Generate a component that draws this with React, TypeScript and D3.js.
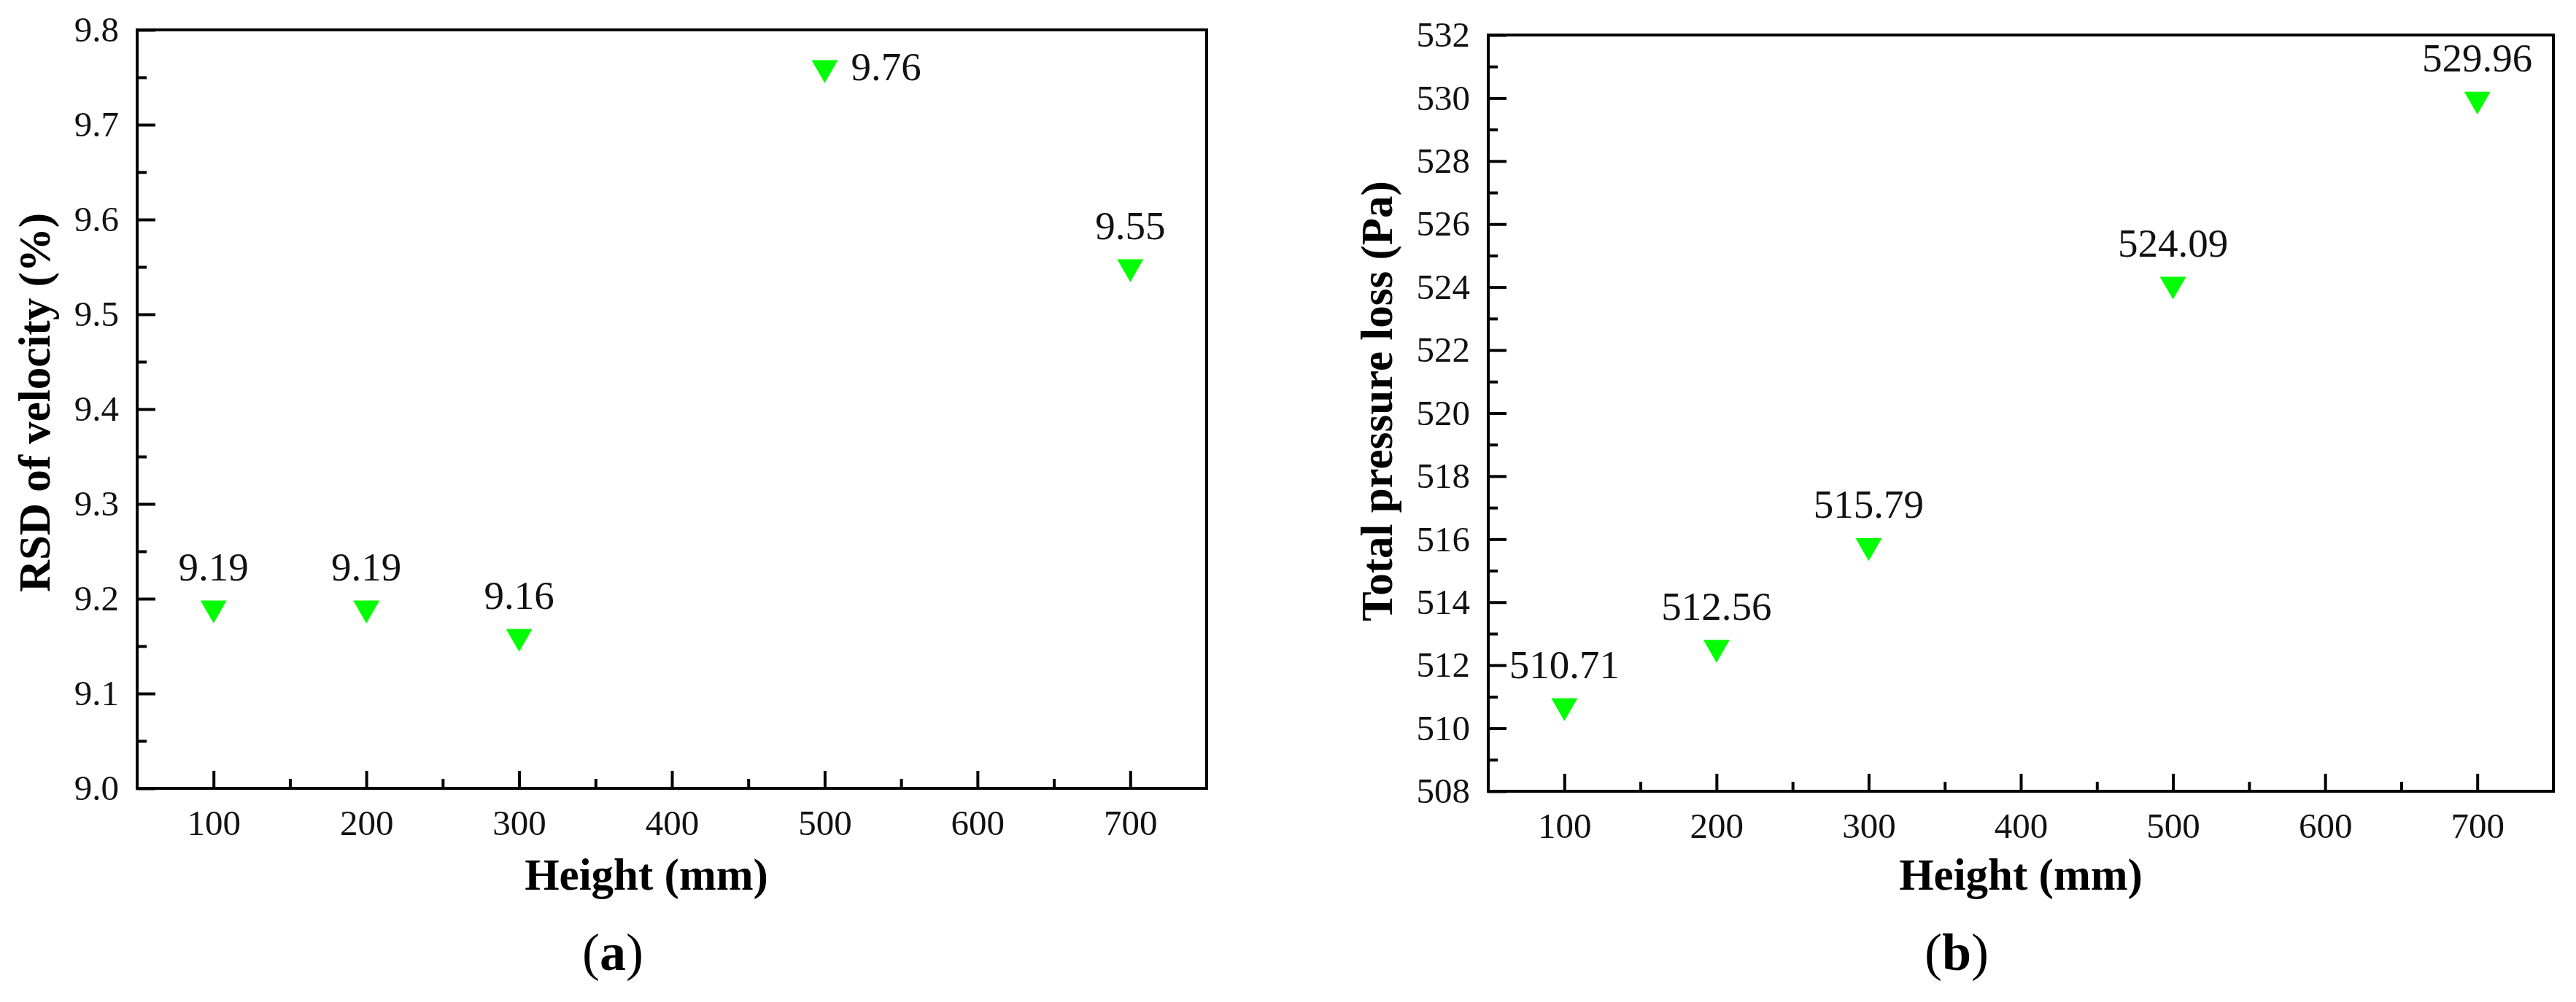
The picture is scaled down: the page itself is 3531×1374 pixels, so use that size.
import React, { useEffect, useRef } from "react";
import * as d3 from "d3";

const heights = [100, 200, 300, 500, 700];
const rsdValues = [9.19, 9.19, 9.16, 9.76, 9.55];
const pressureValues = [510.71, 512.56, 515.79, 524.09, 529.96];
const xTicks = [100, 200, 300, 400, 500, 600, 700];
const xMinorTicks = [150, 250, 350, 450, 550, 650];
const rsdTicks = [9.0, 9.1, 9.2, 9.3, 9.4, 9.5, 9.6, 9.7, 9.8];
const rsdMinorTicks = [9.05, 9.15, 9.25, 9.35, 9.45, 9.55, 9.65, 9.75];
const pressureTicks = [508, 510, 512, 514, 516, 518, 520, 522, 524, 526, 528, 530, 532];
const pressureMinorTicks = [509, 511, 513, 515, 517, 519, 521, 523, 525, 527, 529, 531];
const xTitle = "Height (mm)";
const rsdTitle = "RSD of velocity (%)";
const pressureTitle = "Total pressure loss (Pa)";

const W = 3531;
const H = 1374;
const FONT = "'Liberation Serif', 'Times New Roman', serif";

type Panel = {
  left: number; right: number; top: number; bottom: number;
  yDomain: [number, number]; yTicks: number[]; yMinor: number[]; fmt: (v: number) => string;
  values: number[]; yTitle: string; yTitleX: number; yTitleY: number;
  xTitleX: number; letter: string; letterX: number;
};

const panels: Panel[] = [
  {
    left: 188, right: 1654, top: 41, bottom: 1081,
    yDomain: [9.0, 9.8], yTicks: rsdTicks, yMinor: rsdMinorTicks, fmt: d3.format(".1f"),
    values: rsdValues, yTitle: rsdTitle, yTitleX: 68, yTitleY: 552,
    xTitleX: 886, letter: "a", letterX: 840,
  },
  {
    left: 2040, right: 3500, top: 48, bottom: 1085,
    yDomain: [508, 532], yTicks: pressureTicks, yMinor: pressureMinorTicks, fmt: d3.format("d"),
    values: pressureValues, yTitle: pressureTitle, yTitleX: 1908, yTitleY: 550,
    xTitleX: 2770, letter: "b", letterX: 2682,
  },
];

export default function App() {
  const ref = useRef<SVGSVGElement>(null);

  useEffect(() => {
    document.body.style.margin = "0";
    const svg = d3.select(ref.current);
    svg.selectAll("*").remove();
    svg.append("rect").attr("width", W).attr("height", H).attr("fill", "#fff");

    panels.forEach((p) => {
      const x = d3.scaleLinear().domain([50, 750]).range([p.left, p.right]);
      const y = d3.scaleLinear().domain(p.yDomain).range([p.bottom, p.top]);
      const g = svg.append("g");

      // minor ticks
      g.append("g")
        .attr("transform", `translate(0,${p.bottom})`)
        .call(d3.axisBottom(x).tickValues(xMinorTicks).tickSize(-13).tickFormat(() => ""))
        .call((s) => s.select(".domain").remove());
      g.append("g")
        .attr("transform", `translate(${p.left},0)`)
        .call(d3.axisLeft(y).tickValues(p.yMinor).tickSize(-13).tickFormat(() => ""))
        .call((s) => s.select(".domain").remove());

      // major ticks
      const xa = g.append("g")
        .attr("transform", `translate(0,${p.bottom})`)
        .call(d3.axisBottom(x).tickValues(xTicks).tickSize(-24).tickPadding(29).tickFormat(d3.format("d")));
      xa.select(".domain").remove();
      const ya = g.append("g")
        .attr("transform", `translate(${p.left},0)`)
        .call(d3.axisLeft(y).tickValues(p.yTicks).tickSize(-25).tickPadding(25).tickFormat((v) => p.fmt(v as number)));
      ya.select(".domain").remove();

      g.selectAll("g").attr("font-family", FONT).attr("font-size", 49);
      g.selectAll(".tick line").attr("stroke", "#000").attr("stroke-width", 4);
      g.selectAll(".tick text")
        .attr("fill", "#111")
        .attr("font-family", FONT)
        .style("font-family", FONT)
        .style("font-size", "49px");

      // frame
      g.append("rect")
        .attr("x", p.left).attr("y", p.top)
        .attr("width", p.right - p.left).attr("height", p.bottom - p.top)
        .attr("fill", "none").attr("stroke", "#000").attr("stroke-width", 4);

      // markers
      const tri = d3.symbol().type(d3.symbolTriangle).size(560);
      g.selectAll("path.pt")
        .data(p.values)
        .join("path")
        .attr("class", "pt")
        .attr("d", tri)
        .attr("fill", "#00ff00")
        .attr("transform", (d, i) => `translate(${x(heights[i])},${y(d)}) rotate(180)`);

      // data labels
      g.selectAll("text.lbl")
        .data(p.values)
        .join("text")
        .attr("class", "lbl")
        .each(function (d, i) {
          const cx = x(heights[i]);
          const cy = y(d);
          const t = d3.select(this);
          if (cy - 37 - 40 < p.top) {
            t.attr("x", cx + 36).attr("y", cy + 17).attr("text-anchor", "start");
          } else {
            t.attr("x", cx).attr("y", cy - 38).attr("text-anchor", "middle");
          }
        })
        .attr("font-family", FONT)
        .style("font-family", FONT)
        .style("font-size", "55px")
        .attr("fill", "#111")
        .text((d) => d3.format(".2f")(d));

      // titles
      g.append("text")
        .attr("x", p.xTitleX).attr("y", 1220)
        .attr("text-anchor", "middle")
        .style("font-family", FONT).style("font-size", "61px").style("font-weight", "bold")
        .text(xTitle);
      g.append("text")
        .attr("transform", `translate(${p.yTitleX},${p.yTitleY}) rotate(-90)`)
        .attr("text-anchor", "middle")
        .style("font-family", FONT).style("font-size", "61px").style("font-weight", "bold")
        .text(p.yTitle);

      // panel letter
      const lt = g.append("text")
        .attr("x", p.letterX).attr("y", 1330)
        .attr("text-anchor", "middle")
        .style("font-family", FONT).style("font-size", "72px");
      lt.append("tspan").text("(");
      lt.append("tspan").style("font-weight", "bold").text(p.letter);
      lt.append("tspan").text(")");
    });
  }, []);

  return (
    <svg ref={ref} width={W} height={H} style={{ display: "block", fontFamily: FONT }} />
  );
}
